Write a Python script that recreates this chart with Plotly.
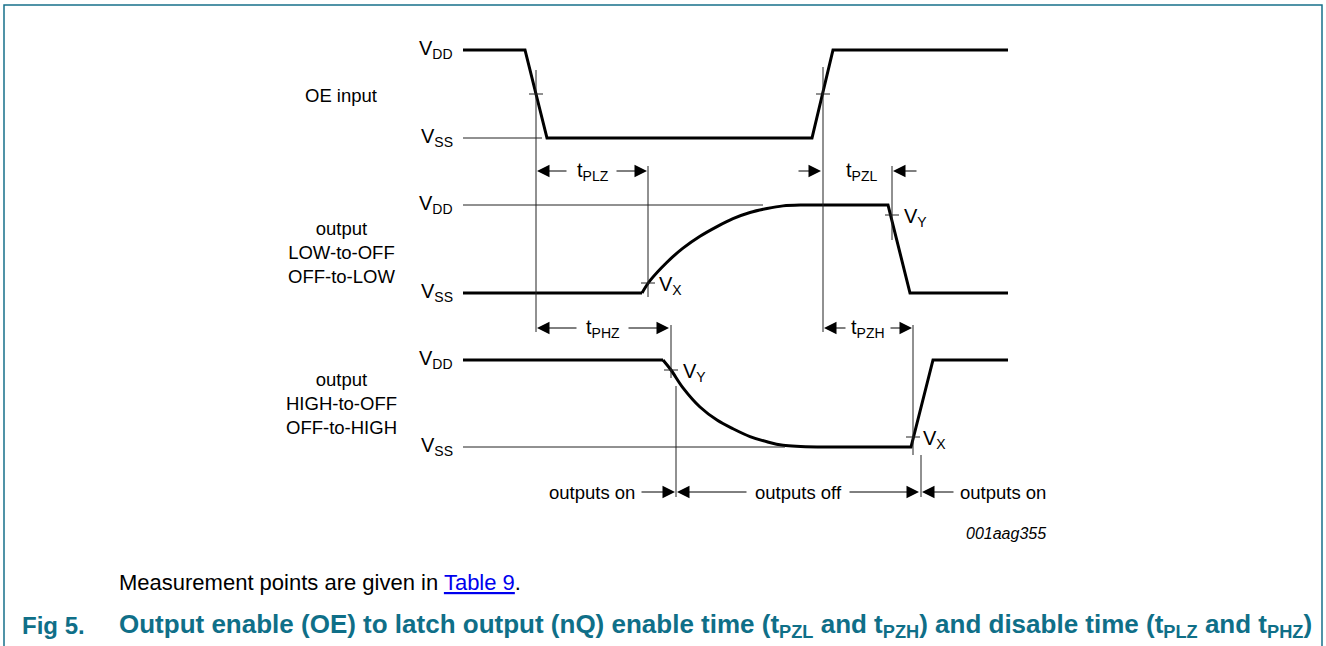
import plotly.graph_objects as go

# ---------------- data (diagram units: time -> x, pixel-like y) ----------------
vdd_y = [50, 205, 360]          # VDD level for each row
vss_y = [138, 293, 447]         # VSS level for each row
row_labels = ["OE input", "output<br>LOW-to-OFF<br>OFF-to-LOW", "output<br>HIGH-to-OFF<br>OFF-to-HIGH"]
row_label_y = [95, 252, 403]

# OE input waveform (level 1 = VDD, 0 = VSS)
oe_t = [463, 525, 547, 812, 833, 1008]
oe_lvl = [1, 1, 0, 0, 1, 1]

# output LOW-to-OFF / OFF-to-LOW
lz_head_t = [463, 642]
lz_head_lvl = [0, 0]
lz_curve_t = [642, 650, 667, 683, 700, 717, 733, 750, 767, 783, 800]
lz_curve_lvl = [0, 0.14, 0.35, 0.51, 0.645, 0.755, 0.845, 0.915, 0.96, 0.99, 1]
lz_tail_t = [800, 888, 910, 1008]
lz_tail_lvl = [1, 1, 0, 0]

# output HIGH-to-OFF / OFF-to-HIGH
hz_head_t = [463, 663]
hz_head_lvl = [1, 1]
hz_curve_t = [663, 671, 683, 700, 717, 733, 750, 767, 783, 817]
hz_curve_lvl = [1, 0.885, 0.68, 0.46, 0.31, 0.21, 0.12, 0.06, 0.02, 0]
hz_tail_t = [817, 911, 933, 1008]
hz_tail_lvl = [0, 0, 1, 1]

# thin reference lines: (x0, x1, y)
guide_h = [(463, 542, 138), (463, 763, 205), (463, 785, 447)]
# thin vertical markers: (x, y0, y1)
guide_v = [(536, 70, 332), (823, 67, 332), (648, 166, 297), (892, 166, 240),
           (671, 325, 378), (676, 386, 497), (913, 325, 455), (921, 455, 497)]
# measurement tick crossings: (x, y)
ticks = [(536, 94), (823, 94), (648, 283), (892, 215), (671, 370), (913, 437)]
tick_half = 7

# dimension arrows: (tail_x, head_x, y)
arrows = [(568, 537, 171), (615, 647, 171), (797, 821, 171), (918, 893, 171),
          (578, 537, 328), (627, 669, 328), (847, 824, 328), (889, 912, 328),
          (640, 675, 492), (748, 677, 492), (848, 919, 492), (955, 922, 492)]

# timing labels: (text, x, y, xanchor)
timing_labels = [("t<sub>PLZ</sub>", 593, 171, "center"), ("t<sub>PZL</sub>", 861, 171, "center"),
                 ("t<sub>PHZ</sub>", 603, 328, "center"), ("t<sub>PZH</sub>", 868, 328, "center"),
                 ("V<sub>X</sub>", 657, 285, "left"), ("V<sub>Y</sub>", 902, 217, "left"),
                 ("V<sub>Y</sub>", 681, 372, "left"), ("V<sub>X</sub>", 921, 439, "left"),
                 ("outputs on", 637, 492, "right"), ("outputs off", 798, 492, "center"),
                 ("outputs on", 958, 492, "left")]

border_color = "#17708a"
caption_color = "#0f6f88"

# ---------------- figure ----------------
fig = go.Figure()

def lvl_to_y(row, lvl):
    return [vss_y[row] + (vdd_y[row] - vss_y[row]) * v for v in lvl]

wave = dict(color="black", width=3)
fig.add_trace(go.Scatter(x=oe_t, y=lvl_to_y(0, oe_lvl), mode="lines", line=wave))
fig.add_trace(go.Scatter(x=lz_head_t, y=lvl_to_y(1, lz_head_lvl), mode="lines", line=wave))
fig.add_trace(go.Scatter(x=lz_curve_t, y=lvl_to_y(1, lz_curve_lvl), mode="lines",
                         line=dict(color="black", width=3, shape="spline", smoothing=1)))
fig.add_trace(go.Scatter(x=lz_tail_t, y=lvl_to_y(1, lz_tail_lvl), mode="lines", line=wave))
fig.add_trace(go.Scatter(x=hz_head_t, y=lvl_to_y(2, hz_head_lvl), mode="lines", line=wave))
fig.add_trace(go.Scatter(x=hz_curve_t, y=lvl_to_y(2, hz_curve_lvl), mode="lines",
                         line=dict(color="black", width=3, shape="spline", smoothing=1)))
fig.add_trace(go.Scatter(x=hz_tail_t, y=lvl_to_y(2, hz_tail_lvl), mode="lines", line=wave))

# thin lines
tx, ty = [], []
for x0, x1, y in guide_h:
    tx += [x0, x1, None]; ty += [y, y, None]
for x, y0, y1 in guide_v:
    tx += [x, x, None]; ty += [y0, y1, None]
for x, y in ticks:
    tx += [x - tick_half, x + tick_half, None]; ty += [y, y, None]
fig.add_trace(go.Scatter(x=tx, y=ty, mode="lines", line=dict(color="#222", width=1)))

# border of the figure box
fig.add_trace(go.Scatter(x=[4, 4, 1322, 1322], y=[646, 5, 5, 646], mode="lines",
                         line=dict(color=border_color, width=1.5)))

font_main = "Liberation Sans, Arial, sans-serif"
ann = []
for tail, head, y in arrows:
    ann.append(dict(x=head, y=y, ax=tail, ay=y, xref="x", yref="y", axref="x", ayref="y",
                    text="", showarrow=True, arrowhead=2, arrowsize=2.5, arrowwidth=1,
                    arrowcolor="black", standoff=0, startstandoff=0))
for i in range(3):
    ann.append(dict(x=455, y=vdd_y[i] - 1, text="V<sub>DD</sub>", xanchor="right", yanchor="middle",
                    showarrow=False, font=dict(size=20, color="black", family=font_main)))
    ann.append(dict(x=455, y=vss_y[i] - 1, text="V<sub>SS</sub>", xanchor="right", yanchor="middle",
                    showarrow=False, font=dict(size=20, color="black", family=font_main)))
    ann.append(dict(x=341, y=row_label_y[i], text=row_labels[i], xanchor="center", yanchor="middle",
                    align="center", showarrow=False,
                    font=dict(size=18.5, color="black", family=font_main)))
for text, x, y, xa in timing_labels:
    size = 18.5 if text.startswith("outputs") else 20
    ann.append(dict(x=x, y=y, text=text, xanchor=xa, yanchor="middle", showarrow=False,
                    font=dict(size=size, color="black", family=font_main)))
ann.append(dict(x=1048, y=533, text="<i>001aag355</i>", xanchor="right", yanchor="middle",
                showarrow=False, font=dict(size=16, color="black", family=font_main)))
ann.append(dict(x=117, y=582, xanchor="left", yanchor="middle", showarrow=False,
                text="Measurement points are given in "
                     "<span style='color:#0000ee;text-decoration:underline'>Table 9</span>.",
                font=dict(size=22, color="black", family=font_main)))
ann.append(dict(x=20, y=625, xanchor="left", yanchor="middle", showarrow=False,
                text="<b>Fig 5.</b>", font=dict(size=24, color=caption_color, family=font_main)))
ann.append(dict(x=117, y=625, xanchor="left", yanchor="middle", showarrow=False,
                text="<b>Output enable (OE) to latch output (nQ) enable time (t<sub>PZL</sub> and "
                     "t<sub>PZH</sub>) and disable time (t<sub>PLZ</sub> and t<sub>PHZ</sub>)</b>",
                font=dict(size=26, color=caption_color, family=font_main)))

fig.update_layout(
    width=1326, height=646, margin=dict(l=0, r=0, t=0, b=0),
    paper_bgcolor="white", plot_bgcolor="white", showlegend=False, hovermode=False,
    xaxis=dict(range=[0, 1326], visible=False, fixedrange=True),
    yaxis=dict(range=[646, 0], visible=False, fixedrange=True),
    annotations=ann,
)
fig.write_html("out.html", config={"displayModeBar": False, "staticPlot": True},
               post_script="document.body.style.margin='0';document.body.style.overflow='hidden';")
